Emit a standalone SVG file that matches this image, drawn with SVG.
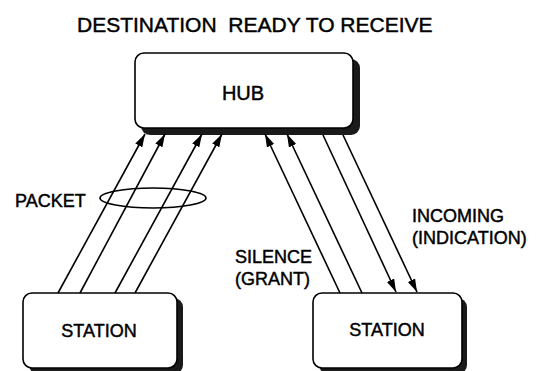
<svg xmlns="http://www.w3.org/2000/svg" width="543" height="371" viewBox="0 0 543 371">
<style>
  text { font-family: "Liberation Sans", Arial, sans-serif; fill: #000; stroke: #000; stroke-width: 0.45; }
  .lbl { font-size: 18px; }
  .title { font-size: 21px; white-space: pre; }
  .box { fill: #fff; stroke: #000; stroke-width: 1.6; }
  .shadow { fill: #1a1a1a; }
  .conn { stroke: #000; stroke-width: 1.6; fill: none; }
  .arr { marker-end: url(#ah); }
</style>
<defs>
  <marker id="ah" markerUnits="userSpaceOnUse" markerWidth="14" markerHeight="10" viewBox="0 0 14 10" refX="13" refY="5" orient="auto">
    <path d="M0,1 L13,5 L0,9 Z" fill="#000"/>
  </marker>
</defs>
<rect width="543" height="371" fill="#fff"/>
<text class="title" x="77" y="32" xml:space="preserve">DESTINATION  READY TO RECEIVE</text>

<g id="hub">
  <rect class="shadow" x="141" y="59" width="219" height="76" rx="9"/>
  <rect class="box" x="135" y="53" width="218" height="75" rx="9"/>
  <text x="243" y="100" font-size="20" text-anchor="middle">HUB</text>
</g>

<g id="station-left">
  <rect class="shadow" x="29" y="298" width="154" height="76" rx="9"/>
  <rect class="box" x="23" y="293" width="154" height="75" rx="9"/>
  <text class="lbl" x="99" y="337" text-anchor="middle">STATION</text>
</g>

<g id="station-right">
  <rect class="shadow" x="319" y="298" width="148" height="76" rx="9"/>
  <rect class="box" x="313" y="293" width="149" height="75" rx="9"/>
  <text class="lbl" x="387" y="336" text-anchor="middle">STATION</text>
</g>

<g id="connectors">
  <line class="conn arr" x1="58" y1="293" x2="145" y2="134"/>
  <line class="conn arr" x1="80" y1="293" x2="165" y2="134"/>
  <line class="conn arr" x1="115" y1="293" x2="202" y2="134"/>
  <line class="conn arr" x1="135" y1="293" x2="222" y2="134"/>
  <line class="conn arr" x1="340" y1="293" x2="265" y2="134"/>
  <line class="conn arr" x1="362" y1="293" x2="287" y2="134"/>
  <line class="conn arr" x1="323" y1="135" x2="396" y2="292"/>
  <line class="conn arr" x1="343" y1="135" x2="417" y2="292"/>
  <ellipse class="conn" cx="153" cy="198" rx="53" ry="10"/>
</g>

<g id="labels">
  <text class="lbl" x="15" y="207">PACKET</text>
  <text class="lbl" x="235" y="263">SILENCE</text>
  <text class="lbl" x="235" y="285">(GRANT)</text>
  <text class="lbl" x="412" y="222">INCOMING</text>
  <text class="lbl" x="412" y="244">(INDICATION)</text>
</g>
</svg>
